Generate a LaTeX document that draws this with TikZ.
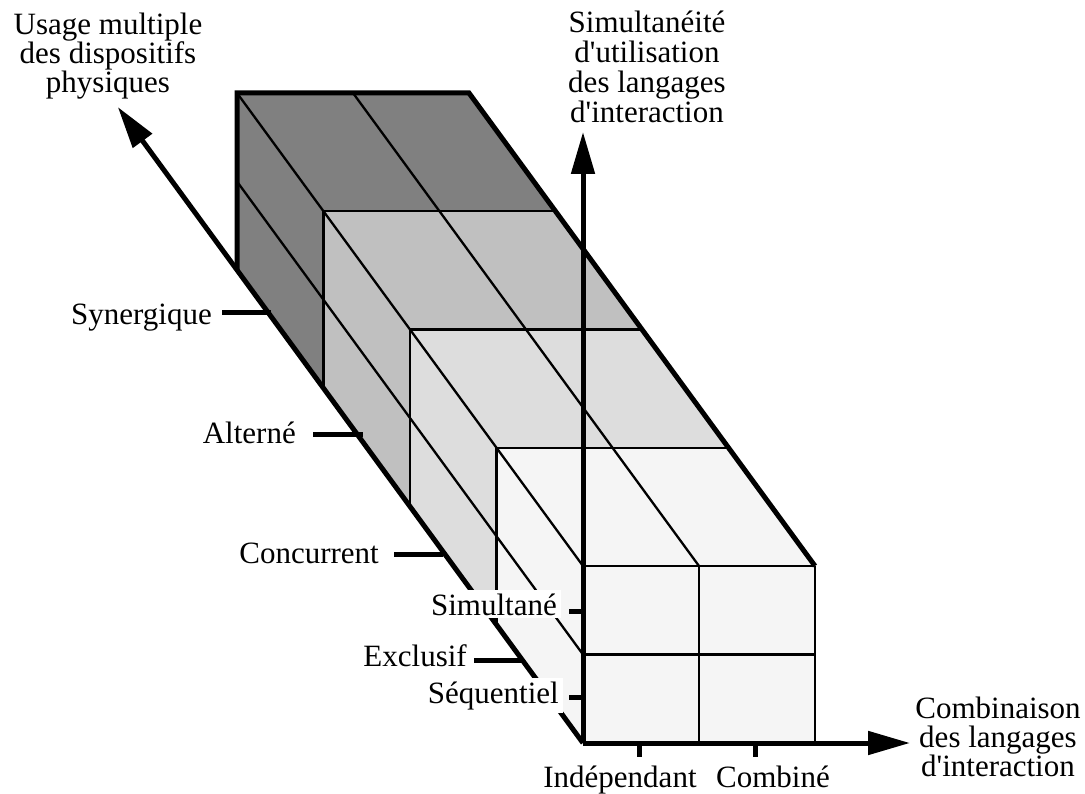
\documentclass[tikz,border=0pt]{standalone}
\usepackage{fontspec}
\setmainfont{Liberation Serif}[Ligatures=TeXOff]
\usetikzlibrary{arrows.meta}
\definecolor{sliceA}{HTML}{F5F5F5}
\definecolor{sliceB}{HTML}{DDDDDD}
\definecolor{sliceC}{HTML}{C0C0C0}
\definecolor{sliceD}{HTML}{808080}
\begin{document}
\setlength{\lineskiplimit}{-100pt}
\begin{tikzpicture}[x=1pt,y=-1pt,
  gridline/.style={line width=2.3pt,line join=miter},
  edgeline/.style={line width=5pt,line join=miter},
  axisline/.style={line width=5pt,-{Triangle[length=42pt,width=23pt]}},
  tickline/.style={line width=5pt},
  lbl/.style={font=\fontsize{31}{29}\selectfont, inner sep=0pt},
  whitelbl/.style={lbl, fill=white, inner xsep=4pt, inner ysep=3pt},
]
\useasboundingbox (0,0) rectangle (1085,794);
% lattice points p<x><y><z>
\foreach \i in {0,1,2}{
  \foreach \j in {0,1,2}{
    \foreach \k in {0,...,4}{
      \coordinate (p\i\j\k) at ({583+116*\i-86.5*\k},{743-88.5*\j-118.25*\k});
    }}}
% faces, shaded by depth slice
\foreach \k/\c in {0/sliceA,1/sliceB,2/sliceC,3/sliceD}{
  \pgfmathtruncatemacro{\kk}{\k+1}
  \fill[\c] (p02\k) -- (p22\k) -- (p22\kk) -- (p02\kk) -- cycle;
  \fill[\c] (p00\k) -- (p02\k) -- (p02\kk) -- (p00\kk) -- cycle;
}
\fill[sliceA] (p000) -- (p200) -- (p220) -- (p020) -- cycle;
% thin grid lines
\draw[gridline] (p010) -- (p210);
\draw[gridline] (p100) -- (p120);
\draw[gridline] (p200) -- (p220);
\draw[gridline] (p020) -- (p220);
\draw[gridline] (p020) -- (p024);
\draw[gridline] (p120) -- (p124);
\draw[gridline] (p010) -- (p014);
\foreach \k in {1,2,3}{
  \draw[gridline] (p02\k) -- (p22\k);
  \draw[gridline] (p00\k) -- (p02\k);
}
% thick outline
\draw[edgeline] (p004) -- (p024) -- (p224) -- (p220);
% axes
\coordinate (ztip) at (117.8,107);
\coordinate (xtip) at (910,743);
\coordinate (ytip) at (583,132);
\draw[axisline] (p000) -- (ztip);
\draw[axisline] (p000) -- (xtip);
\draw[axisline] (p000) -- (ytip);
% ticks on the depth axis
\coordinate (tzA1) at (474,660); \coordinate (tzA2) at (523,660);
\coordinate (tzB1) at (394,554); \coordinate (tzB2) at (443,554);
\coordinate (tzC1) at (313,434); \coordinate (tzC2) at (363,434);
\coordinate (tzD1) at (222,313); \coordinate (tzD2) at (271,313);
\draw[tickline] (tzA1) -- (tzA2);
\draw[tickline] (tzB1) -- (tzB2);
\draw[tickline] (tzC1) -- (tzC2);
\draw[tickline] (tzD1) -- (tzD2);
% ticks on the vertical axis
\coordinate (tyA1) at (569,611); \coordinate (tyA2) at (583,611);
\coordinate (tyB1) at (569,697); \coordinate (tyB2) at (583,697);
\draw[tickline] (tyA1) -- (tyA2);
\draw[tickline] (tyB1) -- (tyB2);
% ticks on the horizontal axis
\coordinate (txA1) at (639,743); \coordinate (txA2) at (639,757);
\coordinate (txB1) at (755,743); \coordinate (txB2) at (755,757);
\draw[tickline] (txA1) -- (txA2);
\draw[tickline] (txB1) -- (txB2);
% labels
\node[lbl, align=center, anchor=north] (usage) at (108,13) {Usage multiple\\des dispositifs\\physiques};
\node[lbl, align=center, anchor=north, font=\fontsize{31}{30}\selectfont] (simu) at (647,11) {Simultanéité\\d'utilisation\\des langages\\d'interaction};
\node[lbl, align=center, anchor=north] (comb) at (998,697) {Combinaison\\des langages\\d'interaction};
\node[lbl, anchor=base east] (syn) at (212,325) {Synergique};
\node[lbl, anchor=base east] (alt) at (296,443) {Alterné};
\node[lbl, anchor=base east] (conc) at (379,563) {Concurrent};
\node[lbl, anchor=base east] (excl) at (467,666) {Exclusif};
\node[whitelbl, anchor=base east] (simt) at (561,615) {Simultané};
\node[whitelbl, anchor=base east] (sequ) at (563,703) {Séquentiel};
\node[lbl, anchor=base] (indep) at (620,787) {Indépendant};
\node[lbl, anchor=base] (combi) at (773,787) {Combiné};
\end{tikzpicture}
\end{document}
